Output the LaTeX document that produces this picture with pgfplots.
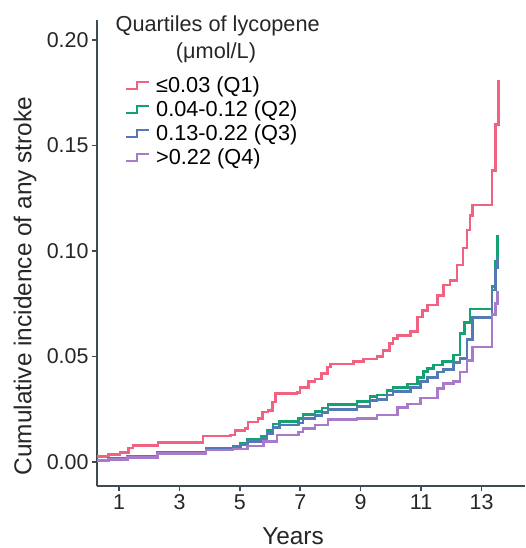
\documentclass[border=0pt]{standalone}
\usepackage{fontspec}
\setmainfont{Liberation Sans}
\usepackage{pgfplots}
\pgfplotsset{compat=1.18}
\definecolor{axiscol}{RGB}{62,76,82}
\definecolor{qpink}{RGB}{240,98,128}
\definecolor{qgreen}{RGB}{22,162,112}
\definecolor{qblue}{RGB}{82,122,180}
\definecolor{qpurple}{RGB}{170,122,202}
\begin{document}
\begin{tikzpicture}
\begin{axis}[
  scale only axis, width=428bp, height=466bp,
  xmin=0.27, xmax=14.44, ymin=-0.01137, ymax=0.2095,
  axis x line*=bottom, axis y line*=left,
  axis line style={line width=2bp, color=axiscol, -},
  xtick={1,3,5,7,9,11,13},
  ytick={0,0.05,0.1,0.15,0.2},
  tick style={line width=1.6bp, color=axiscol},
  tick align=outside, major tick length=5bp,
  /pgf/number format/assume math mode=true,
  ticklabel style={font=\fontsize{21.5}{25}\selectfont, color=black!85},
  yticklabel style={/pgf/number format/fixed, /pgf/number format/fixed zerofill, /pgf/number format/precision=2},
  scaled y ticks=false,
  xlabel={Years}, ylabel={Cumulative incidence of any stroke},
  label style={font=\fontsize{24.5}{28}\selectfont, color=black!85},
  xlabel style={at={(axis description cs:0.458,-0.107)}, anchor=center},
  ylabel style={at={(axis description cs:-0.168,0.429)}, anchor=center, rotate=0},
  every axis plot/.append style={line width=2.8bp, const plot mark left},
  legend style={at={(axis description cs:0.0654,0.881)}, anchor=north west, draw=none, fill=none,
    font=\fontsize{21.8}{25}\selectfont, inner sep=0pt, row sep=3.8bp, nodes={inner sep=1.5bp}},
  legend cell align=left,
  legend image code/.code={\draw[#1, line width=2.2bp] (0bp,-3.5bp) -- (11bp,-3.5bp) -- (11bp,3.5bp) -- (23bp,3.5bp); \path (27bp,0bp);},
  clip=false,
]
\addplot[qpink] coordinates {
(0.27,0.0025) (0.64,0.0035) (1.03,0.0045) (1.30,0.0066) (1.46,0.0080) (2.29,0.0092)
(3.78,0.0123) (4.68,0.0128) (4.84,0.0150) (5.17,0.0160) (5.27,0.0190) (5.60,0.0207)
(5.74,0.0237) (5.93,0.0246) (6.07,0.0284) (6.17,0.0325) (6.89,0.0330) (6.99,0.0355)
(7.26,0.0380) (7.49,0.0393) (7.70,0.0420) (7.89,0.0450) (7.99,0.0465) (8.75,0.0475)
(9.08,0.0488) (9.54,0.0500) (9.74,0.0530) (9.95,0.0560) (10.07,0.0587) (10.21,0.0600)
(10.64,0.0620) (10.87,0.0687) (11.05,0.0720) (11.20,0.0744) (11.53,0.0790) (11.73,0.0839)
(11.96,0.0862) (12.19,0.0934) (12.39,0.1014) (12.52,0.1100) (12.62,0.1170) (12.69,0.1218)
(13.35,0.1380) (13.45,0.1600) (13.55,0.1810)
};
\addlegendentry{≤0.03 (Q1)}
\addplot[qgreen] coordinates {
(0.27,0.0010) (0.64,0.0016) (1.28,0.0028) (2.27,0.0046) (3.88,0.0066) (4.77,0.0075)
(5.01,0.0090) (5.24,0.0105) (5.70,0.0120) (5.90,0.0148) (6.10,0.0180) (6.30,0.0192)
(6.93,0.0205) (7.09,0.0225) (7.49,0.0240) (7.72,0.0256) (7.92,0.0272) (8.88,0.0285)
(9.31,0.0310) (9.54,0.0318) (9.87,0.0340) (10.07,0.0355) (10.54,0.0370) (10.87,0.0400)
(11.07,0.0428) (11.20,0.0445) (11.40,0.0460) (11.70,0.0475) (12.06,0.0507) (12.29,0.0610)
(12.45,0.0660) (12.62,0.0725) (13.35,0.0830) (13.45,0.0950) (13.52,0.1075)
};
\addlegendentry{0.04-0.12 (Q2)}
\addplot[qblue] coordinates {
(0.27,0.0010) (0.64,0.0015) (1.28,0.0026) (2.27,0.0044) (3.88,0.0063) (4.77,0.0070)
(5.01,0.0083) (5.24,0.0098) (5.70,0.0112) (5.90,0.0135) (6.10,0.0165) (6.30,0.0175)
(6.93,0.0185) (7.09,0.0205) (7.49,0.0220) (7.72,0.0235) (7.92,0.0250) (8.88,0.0262)
(9.31,0.0290) (9.54,0.0296) (9.87,0.0318) (10.07,0.0333) (10.64,0.0355) (10.97,0.0380)
(11.20,0.0400) (11.53,0.0427) (11.73,0.0440) (12.06,0.0470) (12.29,0.0490) (12.52,0.0580)
(12.69,0.0685) (13.35,0.0815) (13.45,0.0920) (13.52,0.0970)
};
\addlegendentry{0.13-0.22 (Q3)}
\addplot[qpurple] coordinates {
(0.27,0.0008) (0.64,0.0012) (1.28,0.0022) (2.27,0.0040) (3.88,0.0057) (4.77,0.0062)
(5.24,0.0076) (5.77,0.0096) (6.23,0.0128) (6.93,0.0142) (7.09,0.0160) (7.49,0.0175)
(7.92,0.0200) (8.88,0.0208) (9.54,0.0223) (10.21,0.0260) (10.54,0.0275) (10.97,0.0303)
(11.53,0.0350) (11.73,0.0374) (12.06,0.0380) (12.29,0.0427) (12.52,0.0480) (12.69,0.0545)
(13.35,0.0700) (13.45,0.0750) (13.52,0.0810)
};
\addlegendentry{>0.22 (Q4)}
\node[font=\fontsize{21.8}{26}\selectfont, color=black!85, anchor=base] at (axis description cs:0.282,0.976) {Quartiles of lycopene};
\node[font=\fontsize{21.8}{26}\selectfont, color=black!85, anchor=base] at (axis description cs:0.278,0.918) {(μmol/L)};
\end{axis}
\pgfresetboundingbox
\path[use as bounding box] (-97bp,-62bp) rectangle (429bp,486bp);
\end{tikzpicture}
\end{document}
